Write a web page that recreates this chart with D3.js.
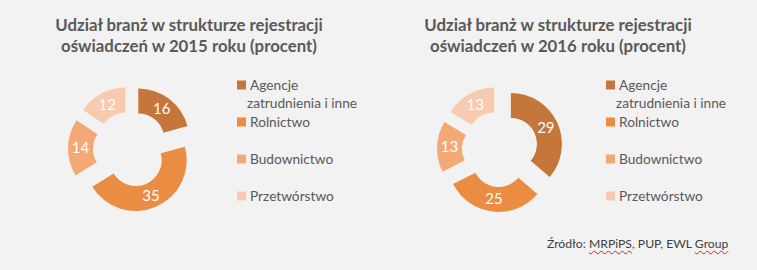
<!DOCTYPE html>
<html>
<head>
<meta charset="utf-8">
<script src="https://cdn.jsdelivr.net/npm/d3@7"></script>
<style>
  body { margin: 0; background: #f2f2f2; }
  #chart { position: relative; width: 757px; height: 270px; }
  #source {
    position: absolute; left: 547px; top: 236px;
    font: 12.2px Lato, "Open Sans", sans-serif; color: #404040;
    white-space: nowrap;
  }
  #source .sp { text-decoration: underline wavy #e02020; text-decoration-thickness: 1px; text-underline-offset: 2px; }
</style>
</head>
<body>
<div id="chart"></div>
<script>
// Data
const categories = ["Agencje\nzatrudnienia i inne", "Rolnictwo", "Budownictwo", "Przetwórstwo"];
const values2015 = [16, 35, 14, 12];
const values2016 = [29, 25, 13, 13];
const years = ["2015", "2016"];
const colors = ["#c5763a", "#ea8c42", "#f3a976", "#f8caaf"];

function draw() {
  const width = 757;
  const height = 270;

  const svg = d3
    .select("#chart")
    .append("svg")
    .attr("width", width)
    .attr("height", height)
    .style("display", "block");

  svg.append("rect").attr("width", width).attr("height", height).attr("fill", "#f2f2f2");

  const panels = [
    { values: values2015, year: years[0], x: 0 },
    { values: values2016, year: years[1], x: 369 },
  ];

  const outer = 51;
  const inner = 26;
  const explode = 12;

  const pie = d3.pie().sort(null).value((d) => d);
  const arc = d3.arc().innerRadius(inner).outerRadius(outer);

  panels.forEach((p) => {
    const g = svg.append("g").attr("transform", `translate(${p.x},0)`);

    // Title
    const title = g
      .append("text")
      .attr("text-anchor", "middle")
      .attr("fill", "#595959")
      .style("font-family", "Lato, 'Open Sans', sans-serif")
      .style("font-weight", "bold")
      .style("font-size", "16.8px");
    title.append("tspan").attr("x", 189).attr("y", 31).text("Udział branż w strukturze rejestracji");
    title.append("tspan").attr("x", 189).attr("y", 52).text(`oświadczeń w ${p.year} roku (procent)`);

    // Donut
    const donut = g.append("g").attr("transform", `translate(131,149)`);
    const slices = donut
      .selectAll("g.slice")
      .data(pie(p.values))
      .join("g")
      .attr("class", "slice")
      .attr("transform", (d) => {
        const mid = (d.startAngle + d.endAngle) / 2;
        return `translate(${explode * Math.sin(mid)},${-explode * Math.cos(mid)})`;
      });

    slices.append("path").attr("d", arc).attr("fill", (d, i) => colors[i]);

    slices
      .append("text")
      .attr("transform", (d) => `translate(${arc.centroid(d)})`)
      .attr("text-anchor", "middle")
      .attr("dy", "0.35em")
      .attr("fill", "#ffffff")
      .style("font-family", "Lato, 'Open Sans', sans-serif")
      .style("font-size", "15px")
      .text((d) => d.data);

    // Legend
    const legend = g.append("g").attr("transform", "translate(237,85)");
    const items = legend
      .selectAll("g")
      .data(categories)
      .join("g")
      .attr("transform", (d, i) => `translate(0,${i * 37})`);

    items
      .append("rect")
      .attr("x", 0)
      .attr("y", -4.5)
      .attr("width", 9)
      .attr("height", 9)
      .attr("fill", (d, i) => colors[i]);

    const label = items
      .append("text")
      .attr("fill", "#595959")
      .style("font-family", "Lato, 'Open Sans', sans-serif")
      .style("font-size", "13.7px");
    label
      .selectAll("tspan")
      .data((d) => d.split("\n"))
      .join("tspan")
      .attr("x", (d, i) => (i === 0 ? 13 : 10))
      .attr("y", (d, i) => i * 18)
      .attr("dy", "0.35em")
      .text((d) => d);
  });

  // Source
  d3.select("#chart")
    .append("div")
    .attr("id", "source")
    .html('Źródło: <span class="sp">MRPiPS</span>, PUP, EWL <span class="sp">Group</span>');
}

draw();
</script>
</body>
</html>
